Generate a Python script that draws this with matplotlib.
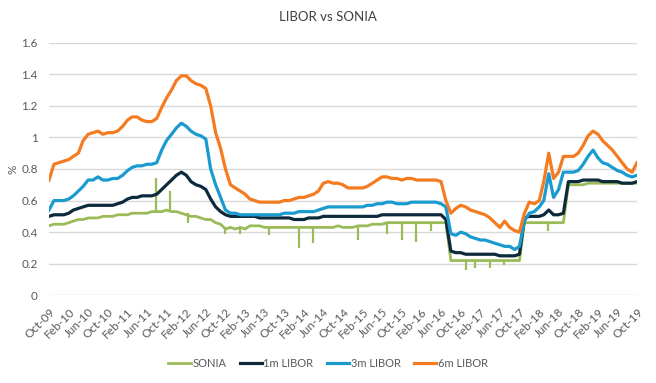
import numpy as np
import pandas as pd
import matplotlib
matplotlib.use("Agg")
import matplotlib.pyplot as plt
import matplotlib.dates as mdates

plt.rcParams['font.family'] = ['Lato', 'DejaVu Sans']

# monthly readings, Oct-09 .. Oct-19
months = pd.date_range("2009-10-01", "2019-10-01", freq="MS")

libor_6m = [0.73, 0.83, 0.84, 0.85, 0.86, 0.88, 0.90, 0.98, 1.02, 1.03, 1.04, 1.02,
            1.03, 1.03, 1.04, 1.07, 1.11, 1.13, 1.13, 1.11, 1.10, 1.10, 1.12, 1.19,
            1.25, 1.30, 1.36, 1.39, 1.39, 1.36, 1.34, 1.33, 1.31, 1.20, 1.03, 0.93,
            0.80, 0.70, 0.68, 0.66, 0.64, 0.61, 0.60, 0.59, 0.59, 0.59, 0.59, 0.59,
            0.60, 0.60, 0.61, 0.62, 0.62, 0.63, 0.64, 0.66, 0.71, 0.72, 0.71, 0.71,
            0.70, 0.68, 0.68, 0.68, 0.68, 0.69, 0.71, 0.73, 0.75, 0.75, 0.74, 0.74,
            0.73, 0.74, 0.74, 0.73, 0.73, 0.73, 0.73, 0.73, 0.72, 0.60, 0.52, 0.55,
            0.57, 0.56, 0.54, 0.53, 0.52, 0.51, 0.49, 0.46, 0.43, 0.47, 0.43, 0.41,
            0.40, 0.52, 0.59, 0.58, 0.60, 0.72, 0.90, 0.74, 0.78, 0.88, 0.88, 0.88,
            0.90, 0.95, 1.01, 1.04, 1.02, 0.98, 0.95, 0.92, 0.88, 0.84, 0.80, 0.78,
            0.84]

libor_3m = [0.54, 0.60, 0.60, 0.60, 0.61, 0.63, 0.66, 0.69, 0.73, 0.73, 0.75, 0.73,
            0.73, 0.74, 0.74, 0.76, 0.79, 0.81, 0.82, 0.82, 0.83, 0.83, 0.84, 0.92,
            0.98, 1.02, 1.06, 1.09, 1.07, 1.04, 1.02, 1.01, 0.99, 0.80, 0.70, 0.62,
            0.54, 0.52, 0.52, 0.51, 0.51, 0.51, 0.51, 0.51, 0.51, 0.51, 0.51, 0.51,
            0.52, 0.52, 0.52, 0.53, 0.53, 0.53, 0.53, 0.54, 0.55, 0.56, 0.56, 0.56,
            0.56, 0.56, 0.56, 0.56, 0.56, 0.57, 0.57, 0.58, 0.58, 0.59, 0.59, 0.58,
            0.58, 0.58, 0.59, 0.59, 0.59, 0.59, 0.59, 0.59, 0.58, 0.56, 0.39, 0.38,
            0.40, 0.39, 0.37, 0.36, 0.35, 0.35, 0.34, 0.33, 0.32, 0.31, 0.31, 0.29,
            0.31, 0.47, 0.52, 0.53, 0.56, 0.60, 0.77, 0.62, 0.67, 0.78, 0.78, 0.78,
            0.79, 0.83, 0.88, 0.92, 0.87, 0.84, 0.83, 0.81, 0.79, 0.78, 0.76, 0.75,
            0.76]

libor_1m = [0.50, 0.51, 0.51, 0.51, 0.52, 0.54, 0.55, 0.56, 0.57, 0.57, 0.57, 0.57,
            0.57, 0.57, 0.58, 0.59, 0.61, 0.62, 0.62, 0.63, 0.63, 0.63, 0.64, 0.67,
            0.70, 0.73, 0.76, 0.78, 0.76, 0.72, 0.70, 0.69, 0.67, 0.61, 0.56, 0.53,
            0.51, 0.50, 0.50, 0.50, 0.50, 0.50, 0.50, 0.49, 0.49, 0.49, 0.49, 0.49,
            0.49, 0.49, 0.48, 0.48, 0.48, 0.49, 0.49, 0.49, 0.50, 0.50, 0.50, 0.50,
            0.50, 0.50, 0.50, 0.50, 0.50, 0.50, 0.50, 0.50, 0.51, 0.51, 0.51, 0.51,
            0.51, 0.51, 0.51, 0.51, 0.51, 0.51, 0.51, 0.51, 0.51, 0.48, 0.28, 0.27,
            0.27, 0.26, 0.26, 0.26, 0.26, 0.26, 0.26, 0.26, 0.25, 0.25, 0.25, 0.25,
            0.26, 0.49, 0.50, 0.50, 0.50, 0.51, 0.54, 0.51, 0.51, 0.52, 0.72, 0.72,
            0.72, 0.73, 0.73, 0.73, 0.73, 0.72, 0.72, 0.72, 0.72, 0.71, 0.71, 0.71,
            0.72]

sonia = [0.44, 0.45, 0.45, 0.45, 0.46, 0.47, 0.48, 0.48, 0.49, 0.49, 0.49, 0.50,
         0.50, 0.50, 0.51, 0.51, 0.51, 0.52, 0.52, 0.52, 0.52, 0.53, 0.53, 0.53,
         0.54, 0.53, 0.53, 0.52, 0.51, 0.50, 0.50, 0.49, 0.48, 0.48, 0.46, 0.45,
         0.42, 0.43, 0.42, 0.43, 0.42, 0.44, 0.44, 0.44, 0.43, 0.43, 0.43, 0.43,
         0.43, 0.43, 0.43, 0.43, 0.43, 0.43, 0.43, 0.43, 0.43, 0.43, 0.43, 0.44,
         0.43, 0.43, 0.43, 0.44, 0.44, 0.44, 0.45, 0.45, 0.45, 0.46, 0.46, 0.46,
         0.46, 0.46, 0.46, 0.46, 0.46, 0.46, 0.46, 0.46, 0.46, 0.46, 0.22, 0.22,
         0.22, 0.22, 0.22, 0.22, 0.22, 0.22, 0.22, 0.22, 0.22, 0.22, 0.22, 0.22,
         0.22, 0.46, 0.46, 0.46, 0.46, 0.46, 0.46, 0.46, 0.46, 0.46, 0.70, 0.70,
         0.70, 0.70, 0.71, 0.71, 0.71, 0.71, 0.71, 0.71, 0.71, 0.71, 0.71, 0.71,
         0.71]

# one-day SONIA spikes (date, level before, tip)
spike_dates = pd.to_datetime(["2011-07-25", "2011-10-25", "2012-02-10", "2012-10-01",
                              "2013-01-02", "2013-06-28", "2013-12-31", "2014-03-31",
                              "2015-01-02", "2015-06-30", "2015-09-30", "2015-12-31",
                              "2016-03-31", "2016-11-01", "2016-12-30", "2017-03-31",
                              "2017-06-30", "2018-03-29"])
spike_base = [0.53, 0.54, 0.52, 0.43, 0.43, 0.44, 0.43, 0.43, 0.44, 0.45, 0.46, 0.46,
              0.46, 0.22, 0.22, 0.22, 0.22, 0.46]
spike_tip = [0.74, 0.66, 0.46, 0.39, 0.39, 0.38, 0.30, 0.33, 0.35, 0.39, 0.35, 0.34,
             0.41, 0.16, 0.17, 0.17, 0.19, 0.41]

series_names = ["SONIA", "1m LIBOR", "3m LIBOR", "6m LIBOR"]
colors = ["#9bbb59", "#0c2a3c", "#1a9bd0", "#f47b20"]

fig = plt.figure(figsize=(6.56, 3.83), dpi=100)
ax = fig.add_axes([0.0747, 0.229, 0.8963, 0.6595])

ax.plot(months, sonia, color=colors[0], lw=2.0, label=series_names[0], zorder=3)
ax.vlines(spike_dates, spike_base, spike_tip, color=colors[0], lw=1.6, zorder=3)
ax.plot(months, libor_1m, color=colors[1], lw=2.3, label=series_names[1], zorder=4)
ax.plot(months, libor_3m, color=colors[2], lw=2.3, label=series_names[2], zorder=4)
ax.plot(months, libor_6m, color=colors[3], lw=2.3, label=series_names[3], zorder=4)

ax.set_ylim(0, 1.6)
ax.set_yticks([0, 0.2, 0.4, 0.6, 0.8, 1.0, 1.2, 1.4, 1.6])
ax.set_yticklabels(["0", "0.2", "0.4", "0.6", "0.8", "1", "1.2", "1.4", "1.6"])
ax.set_xlim(months[0], months[-1])
ax.set_xticks(months[::4])
ax.xaxis.set_major_formatter(mdates.DateFormatter("%b-%y"))
plt.setp(ax.get_xticklabels(), rotation=45, ha="right", rotation_mode="anchor")

ax.grid(axis="y", color="#d9d9d9", lw=1.0)
ax.set_axisbelow(True)
for s in ax.spines.values():
    s.set_visible(False)
ax.tick_params(axis="both", length=0, labelsize=8.5, colors="#595959")
ax.tick_params(axis="y", pad=8)
ax.tick_params(axis="x", pad=8)
ax.set_ylabel("%", fontsize=8.5, color="#595959", labelpad=2)

fig.text(0.5, 0.955, "LIBOR vs SONIA", ha="center", va="center", fontsize=9.5, color="#404040")

fig.legend(loc="center", bbox_to_anchor=(0.5, 0.05), ncol=4, frameon=False,
           fontsize=8, handlelength=2.0, handletextpad=0.15, columnspacing=1.2,
           labelcolor="#595959")

fig.savefig("out.png", dpi=100)
